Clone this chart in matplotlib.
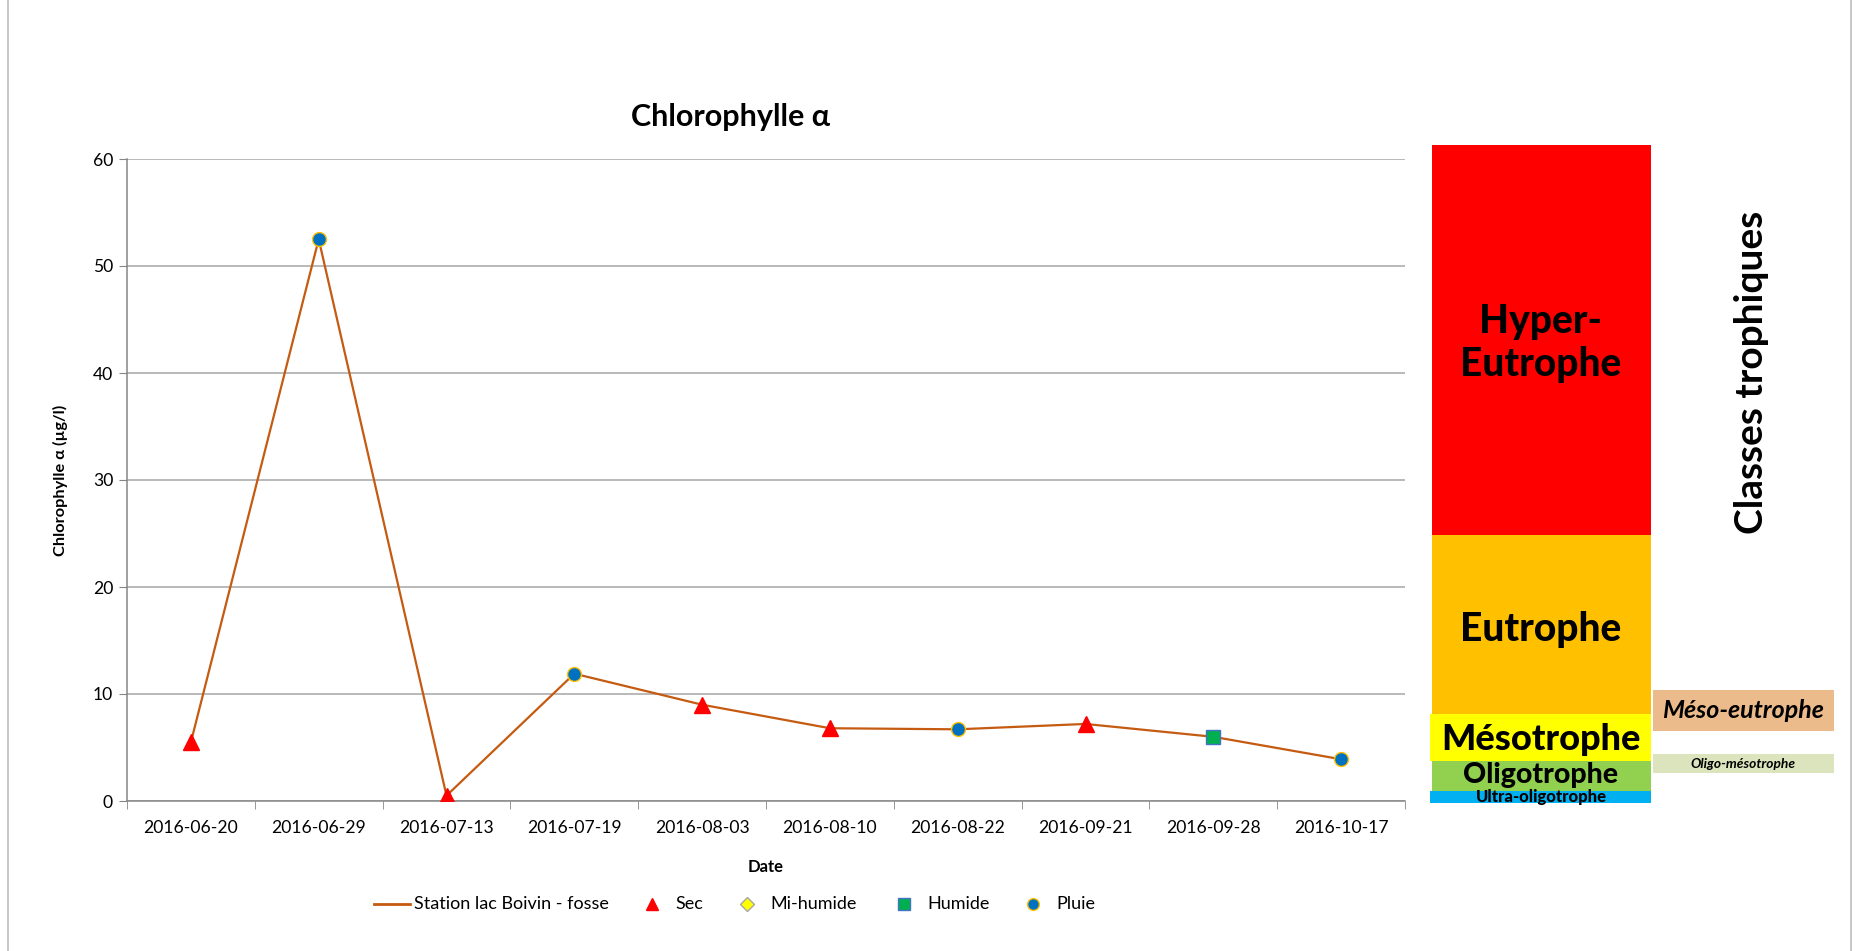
import matplotlib
matplotlib.use("Agg")
import matplotlib.pyplot as plt
from matplotlib.patches import Rectangle

plt.rcParams['font.family'] = ['Lato', 'DejaVu Sans']

# --- data ---
dates = ["2016-06-20", "2016-06-29", "2016-07-13", "2016-07-19", "2016-08-03",
         "2016-08-10", "2016-08-22", "2016-09-21", "2016-09-28", "2016-10-17"]
chl_a = [5.5, 52.5, 0.5, 11.9, 9.0, 6.8, 6.7, 7.2, 6.0, 3.9]
conditions = ["Sec", "Pluie", "Sec", "Pluie", "Sec", "Sec", "Pluie", "Sec", "Humide", "Pluie"]

series_name = "Station lac Boivin - fosse"
cond_names = ["Sec", "Mi-humide", "Humide", "Pluie"]
cond_style = {
    "Sec": dict(marker='^', color='#FF0000', mec='#FF0000', ms=11),
    "Mi-humide": dict(marker='D', color='#FFFF00', mec='#A6A6A6', ms=8),
    "Humide": dict(marker='s', color='#00B050', mec='#4472C4', ms=10),
    "Pluie": dict(marker='o', color='#0070C0', mec='#FFC000', ms=10),
}

# trophic classes (main column, bottom to top) and intermediate classes
classes = ["Ultra-oligotrophe", "Oligotrophe", "Mésotrophe", "Eutrophe", "Hyper-\nEutrophe"]
class_colors = ["#00B0F0", "#92D050", "#FFFF00", "#FFC000", "#FF0000"]
inter_classes = ["Oligo-mésotrophe", "Méso-eutrophe"]
inter_colors = ["#DCE4BE", "#EBBB8B"]

line_color = '#C55A11'
grid_color = '#A6A6A6'

fig = plt.figure(figsize=(18.56, 9.51), dpi=100)

# --- main chart ---
ax = fig.add_axes([127 / 1856, 1 - 801 / 951, 1278 / 1856, 642 / 951])
x = list(range(len(dates)))
ax.plot(x, chl_a, color=line_color, lw=1.6, zorder=2)
for xi, val, cond in zip(x, chl_a, conditions):
    st = cond_style[cond]
    ax.plot(xi, val, ls='none', marker=st['marker'], mfc=st['color'],
            mec=st['mec'], ms=st['ms'], mew=1, zorder=3)

ax.set_xlim(-0.5, len(dates) - 0.5)
ax.set_ylim(0, 60)
ax.set_yticks(range(0, 61, 10))
ax.set_xticks(x)
ax.set_xticklabels(dates, fontsize=12.6)
ax.set_xticks([i - 0.5 for i in range(len(dates) + 1)], minor=True)
ax.tick_params(axis='x', which='major', length=0, pad=14)
ax.tick_params(axis='x', which='minor', length=6, color='#868686', direction='out')
ax.tick_params(axis='y', length=6, color='#868686', labelsize=12.6, pad=4)
ax.yaxis.grid(True, color=grid_color, lw=1.1)
ax.set_axisbelow(True)
for s in ['top', 'right']:
    ax.spines[s].set_visible(False)
for s in ['left', 'bottom']:
    ax.spines[s].set_color('#868686')
    ax.spines[s].set_linewidth(1.1)

ax.set_ylabel("Chlorophylle α (µg/l)", fontsize=11.8, fontweight='bold', labelpad=18)
ax.set_xlabel("Date", fontsize=12, fontweight='bold', labelpad=16)
fig.text(731 / 1856, 1 - 117 / 951, "Chlorophylle α", ha='center', va='center',
         fontsize=22, fontweight='bold')

# --- overlay in pixel coordinates: frame, legend row, trophic class column ---
ov = fig.add_axes([0, 0, 1, 1], zorder=-1)
ov.set_xlim(0, 1856)
ov.set_ylim(951, 0)
ov.axis('off')

ov.plot([8, 8], [0, 951], color='#BFBFBF', lw=1.2)
ov.plot([1851, 1851], [0, 951], color='#BFBFBF', lw=1.2)

# legend row
leg_y = 904
ov.plot([374, 410], [leg_y, leg_y], color=line_color, lw=2)
ov.text(414, leg_y, series_name, ha='left', va='center', fontsize=13)
for name, mx in zip(cond_names, [652, 747, 904, 1033]):
    st = cond_style[name]
    ov.plot(mx, leg_y, ls='none', marker=st['marker'], mfc=st['color'], mec=st['mec'],
            ms=st['ms'] * 0.85)
    ov.text(mx + 23, leg_y, name, ha='left', va='center', fontsize=13)

col_bounds = [(1430, 791, 803), (1432, 761, 791), (1430, 714, 761), (1432, 535, 714), (1432, 145, 535)]
col_fonts = [12, 20.5, 26, 28, 28]
col_text_y = [797, 775, 740, 629, 343]
for name, color, (x0, y_top, y_bot), fs, ty in zip(classes, class_colors, col_bounds,
                                                    col_fonts, col_text_y):
    ov.add_patch(Rectangle((x0, y_top), 1651 - x0, y_bot - y_top, facecolor=color, edgecolor='none'))
    ov.text(1541, ty, name, ha='center', va='center', fontsize=fs,
            fontweight='black', linespacing=1.2)

inter_bounds = [(754, 773), (690, 731)]
inter_fonts = [9.9, 18]
for name, color, (y_top, y_bot), fs in zip(inter_classes, inter_colors, inter_bounds, inter_fonts):
    ov.add_patch(Rectangle((1653, y_top), 1834 - 1653, y_bot - y_top, facecolor=color, edgecolor='none'))
    ov.text(1743, (y_top + y_bot) / 2, name, ha='center', va='center', fontsize=fs,
            fontweight='bold', style='italic')

ov.text(1752, 372, "Classes trophiques", rotation=90, ha='center', va='center',
        fontsize=28, fontweight='bold')

fig.savefig("out.png", dpi=100)
